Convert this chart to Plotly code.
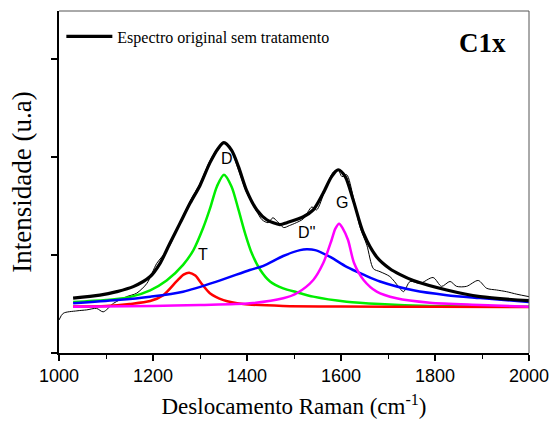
import plotly.graph_objects as go

# ---- data ----
orig_x = [1000, 1009, 1038, 1059, 1080, 1094, 1116, 1144, 1165, 1187, 1208, 1222, 1236, 1257, 1279,
          1300, 1321, 1339, 1351, 1367, 1381, 1399, 1420, 1432, 1445, 1455, 1465, 1478, 1490, 1505,
          1520, 1538, 1548, 1566, 1584, 1594, 1602, 1612, 1626, 1640, 1655, 1669, 1683, 1704, 1722,
          1733, 1747, 1768, 1796, 1814, 1832, 1846, 1867, 1892, 1910, 1931, 1952, 1974, 2000]
orig_y = [0.337, 0.405, 0.43, 0.44, 0.455, 0.42, 0.507, 0.575, 0.61, 0.71, 0.915, 1.0, 1.10, 1.33, 1.55,
          1.73, 1.96, 2.10, 2.15, 2.06, 1.88, 1.64, 1.45, 1.36, 1.33, 1.38, 1.34, 1.28, 1.30, 1.33,
          1.37, 1.49, 1.46, 1.66, 1.85, 1.87, 1.80, 1.82, 1.595, 1.29, 1.10, 0.86, 0.83, 0.78, 0.68,
          0.626, 0.73, 0.71, 0.77, 0.68, 0.73, 0.68, 0.68, 0.74, 0.66, 0.643, 0.626, 0.60, 0.575]

fit_x = [1030, 1087, 1123, 1158, 1194, 1215, 1236, 1257, 1279, 1300, 1321, 1339, 1351, 1367, 1382,
         1399, 1421, 1442, 1470, 1485, 1520, 1541, 1562, 1580, 1594, 1609, 1626, 1648, 1676, 1704,
         1726, 1754, 1825, 1896, 2000]
fit_y = [0.56, 0.59, 0.626, 0.677, 0.78, 0.915, 1.12, 1.32, 1.53, 1.71, 1.94, 2.09, 2.146, 2.07, 1.90,
         1.66, 1.46, 1.36, 1.31, 1.33, 1.39, 1.46, 1.63, 1.80, 1.87, 1.80, 1.56, 1.22, 0.98, 0.86,
         0.80, 0.74, 0.643, 0.575, 0.534]

d_x = [1030, 1100, 1150, 1194, 1229, 1264, 1286, 1307, 1321, 1336, 1351, 1367, 1382, 1396, 1410,
       1428, 1449, 1477, 1506, 1541, 1612, 1683, 1789, 1900, 2000]
d_y = [0.52, 0.54, 0.57, 0.64, 0.74, 0.90, 1.05, 1.28, 1.47, 1.70, 1.82, 1.70, 1.46, 1.22, 1.02,
       0.85, 0.73, 0.66, 0.62, 0.575, 0.524, 0.50, 0.48, 0.475, 0.472]

t_x = [1030, 1100, 1150, 1194, 1222, 1250, 1265, 1277, 1290, 1303, 1321, 1350, 1392, 1477, 1600, 1800, 2000]
t_y = [0.475, 0.48, 0.50, 0.53, 0.59, 0.73, 0.80, 0.82, 0.79, 0.71, 0.61, 0.54, 0.50, 0.48, 0.475, 0.472, 0.47]

d2_x = [1030, 1123, 1194, 1264, 1335, 1406, 1435, 1477, 1513, 1527, 1545, 1577, 1612, 1648, 1683,
        1754, 1825, 1896, 2000]
d2_y = [0.507, 0.54, 0.575, 0.626, 0.728, 0.847, 0.89, 0.99, 1.05, 1.058, 1.05, 0.98, 0.88, 0.80, 0.73,
        0.64, 0.59, 0.56, 0.52]

g_x = [1030, 1200, 1300, 1406, 1477, 1506, 1541, 1562, 1580, 1588, 1596, 1604, 1615, 1628, 1648,
       1676, 1718, 1789, 1896, 2000]
g_y = [0.472, 0.48, 0.49, 0.507, 0.558, 0.61, 0.745, 0.915, 1.153, 1.27, 1.32, 1.27, 1.153, 0.915, 0.745,
       0.626, 0.558, 0.513, 0.49, 0.472]

peak_labels = ["D", "T", "D''", "G"]
peak_label_x = [1358, 1307, 1527, 1603]
peak_label_y = [1.98, 1.01, 1.23, 1.54]

x_tickvals = [1000, 1200, 1400, 1600, 1800, 2000]
legend_name = "Espectro original sem tratamento"
sample_name = "C1x"

# ---- figure ----
fig = go.Figure()
fig.add_trace(go.Scatter(x=orig_x, y=orig_y, mode="lines", showlegend=False,
                         line=dict(color="black", width=1, shape="spline", smoothing=0.8)))
fig.add_trace(go.Scatter(x=d_x, y=d_y, mode="lines", showlegend=False,
                         line=dict(color="#00ee00", width=2.5, shape="spline", smoothing=0.8)))
fig.add_trace(go.Scatter(x=t_x, y=t_y, mode="lines", showlegend=False,
                         line=dict(color="#ff0000", width=2.5, shape="spline", smoothing=0.8)))
fig.add_trace(go.Scatter(x=d2_x, y=d2_y, mode="lines", showlegend=False,
                         line=dict(color="#0000ff", width=2.5, shape="spline", smoothing=0.8)))
fig.add_trace(go.Scatter(x=g_x, y=g_y, mode="lines", showlegend=False,
                         line=dict(color="#ff00ff", width=2.5, shape="spline", smoothing=0.8)))
fig.add_trace(go.Scatter(x=fit_x, y=fit_y, mode="lines", name=legend_name, showlegend=True,
                         line=dict(color="black", width=3.2, shape="spline", smoothing=0.8)))

for lab, lx, ly in zip(peak_labels, peak_label_x, peak_label_y):
    fig.add_annotation(x=lx, y=ly, text=lab, showarrow=False, xanchor="center", yanchor="middle",
                       font=dict(family="Liberation Sans, Arial", size=16, color="black"))

fig.add_annotation(xref="paper", yref="paper", x=0.9, y=0.905, text="<b>%s</b>" % sample_name,
                   showarrow=False, xanchor="center", yanchor="middle",
                   font=dict(family="Liberation Serif, Times New Roman", size=27, color="black"))

# grey top/right frame
fig.add_shape(type="line", xref="paper", yref="paper", x0=0, x1=1, y0=1, y1=1,
              line=dict(color="#555555", width=1))
fig.add_shape(type="line", xref="paper", yref="paper", x0=1, x1=1, y0=0, y1=1,
              line=dict(color="#555555", width=1))

fig.update_layout(
    width=551, height=423,
    margin=dict(l=59, r=22, t=11, b=70, autoexpand=False),
    paper_bgcolor="white", plot_bgcolor="white",
    legend=dict(x=0.005, y=0.975, xanchor="left", yanchor="top", bgcolor="rgba(0,0,0,0)",
                font=dict(family="Liberation Serif, Times New Roman", size=16, color="black"),
                itemwidth=46),
    xaxis=dict(range=[1000, 2000], tickvals=x_tickvals, ticks="outside", ticklen=6, tickwidth=1.5,
               tickcolor="black", showline=True, linecolor="black", linewidth=1.5, showgrid=False,
               zeroline=False, automargin=False,
               tickfont=dict(family="Liberation Sans, Arial", size=18, color="black"),
               minor=dict(dtick=100, tick0=1000, ticks="outside", ticklen=4, tickwidth=1.2,
                          tickcolor="black", showgrid=False),
               title=dict(text="Deslocamento Raman (cm<sup>-1</sup>)", standoff=13,
                          font=dict(family="Liberation Serif, Times New Roman", size=23, color="black"))),
    yaxis=dict(range=[0, 3.49], tickvals=[0, 1, 2, 3], ticks="outside", ticklen=6, tickwidth=1.5,
               tickcolor="black", showticklabels=False, showline=True, linecolor="black",
               linewidth=1.5, showgrid=False, zeroline=False, automargin=False,
               title=dict(text="Intensidade (u.a)", standoff=12,
                          font=dict(family="Liberation Serif, Times New Roman", size=27, color="black"))),
)

fig.write_html("out.html", post_script="document.body.style.margin='0';",
               config={"displayModeBar": False})
